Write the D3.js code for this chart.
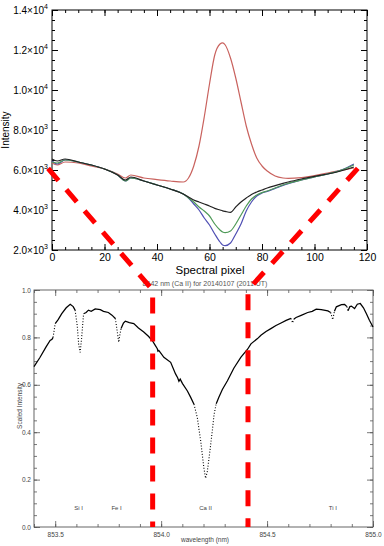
<!DOCTYPE html>
<html><head><meta charset="utf-8">
<script src="https://cdn.jsdelivr.net/npm/d3@7"></script>
<style>
body{margin:0;background:#fff}
svg{display:block}
text{font-family:"Liberation Sans",Arial,Helvetica,sans-serif}
</style>
</head><body>
<svg id="c" width="384" height="546"></svg>
<script>
// ---------- top chart data ----------
const pixels   = [0,2,5,10,15,20,25,28,30,35,40,45,50,52,54,56,58,60,62,64,65,66,68,70,72,74,76,78,80,82,85,88,90,95,100,105,110,115];
const blackVals= [6550,6450,6550,6400,6250,6050,5750,5500,5650,5450,5250,5050,4800,4650,4500,4400,4300,4200,4080,4000,3960,3930,3880,4150,4400,4600,4780,4900,5000,5100,5220,5330,5400,5550,5680,5800,5950,6150];
const greenVals= [6400,6350,6500,6400,6250,6050,5750,5450,5600,5450,5250,5050,4800,4600,4400,4150,3950,3700,3300,3000,2900,2870,2950,3300,3750,4200,4550,4750,4870,4950,5100,5250,5330,5500,5650,5800,5980,6250];
const blueVals = [6450,6300,6500,6400,6250,6050,5750,5450,5600,5450,5250,5050,4800,4600,4300,4000,3600,3250,2800,2400,2250,2220,2350,2800,3300,3950,4400,4700,4850,4930,5080,5230,5320,5500,5650,5800,5980,6300];
const redVals  = [6350,6250,6400,6350,6200,6050,5800,5600,5750,5600,5520,5450,5400,5600,6200,7200,8650,10300,11750,12300,12360,12250,11600,10600,9400,8200,7300,6600,6200,5950,5700,5600,5580,5620,5720,5850,5980,6100];
const topXTicks = [0,20,40,60,80,100,120];
const topYTicks = [2000,4000,6000,8000,10000,12000,14000];
const topYMant  = ["2.0","4.0","6.0","8.0","1.0","1.2","1.4"];
const topYExp   = ["3","3","3","3","4","4","4"];

// ---------- bottom chart data ----------
const specWave = [853.400,853.428,853.457,853.476,853.485,853.490,853.500,853.514,853.531,853.552,853.571,853.585,853.594,853.604,853.611,853.618,853.625,853.634,853.646,853.657,853.670,853.689,853.713,853.728,853.751,853.768,853.784,853.792,853.800,853.805,853.811,853.822,853.831,853.850,853.871,853.893,853.918,853.940,853.958,853.973,853.982,853.985,853.989,854.013,854.045,854.068,854.078,854.084,854.090,854.101,854.124,854.139,854.155,854.171,854.179,854.187,854.195,854.202,854.210,854.218,854.226,854.234,854.242,854.250,854.260,854.272,854.289,854.313,854.343,854.376,854.408,854.424,854.455,854.471,854.495,854.518,854.542,854.566,854.590,854.613,854.621,854.627,854.637,854.661,854.692,854.713,854.732,854.756,854.787,854.800,854.810,854.818,854.827,854.851,854.866,854.877,854.882,854.891,854.898,854.913,854.926,854.940,854.955,854.969,854.983,855.000];
const specInt  = [0.677,0.715,0.760,0.787,0.792,0.800,0.858,0.875,0.900,0.925,0.940,0.930,0.915,0.850,0.770,0.737,0.800,0.900,0.905,0.915,0.910,0.920,0.917,0.910,0.905,0.894,0.880,0.830,0.780,0.810,0.838,0.860,0.868,0.862,0.858,0.840,0.823,0.805,0.787,0.765,0.752,0.742,0.745,0.716,0.695,0.646,0.630,0.615,0.624,0.605,0.574,0.548,0.518,0.461,0.410,0.362,0.300,0.248,0.206,0.234,0.290,0.348,0.410,0.475,0.520,0.546,0.580,0.617,0.670,0.716,0.750,0.773,0.795,0.809,0.825,0.837,0.850,0.861,0.872,0.880,0.861,0.878,0.884,0.893,0.905,0.910,0.919,0.917,0.912,0.905,0.875,0.910,0.929,0.938,0.939,0.930,0.912,0.930,0.932,0.922,0.940,0.943,0.925,0.900,0.872,0.844];
const lineNames = ["Si I","Fe I","Ca II","Ti I"];
const lineWaves = [853.61,853.79,854.21,854.81];
const botXTicks = [853.5,854.0,854.5,855.0];
const botYTicks = [0,0.2,0.4,0.6,0.8,1.0];
const botTitle = "8542 nm (Ca II) for 20140107 (2011 UT)";

// ---------- zoom connector ----------
const zoomPixels = [-1.5,116.5];
const zoomWaves  = [853.96,854.41];
const zoomLevel  = 6080;

const svg = d3.select("#c");

// ================= TOP CHART =================
const tx = d3.scaleLinear().domain([0,120]).range([52,367]);
const ty = d3.scaleLinear().domain([2000,14000]).range([250,10]);
const topG = svg.append("g");

function minorVals(scale, step){
  const [a,b]=scale.domain(); const out=[];
  const n=Math.round((b-a)/step);
  for(let k=0;k<=n;k++) out.push(+(a+k*step).toFixed(6));
  return out;
}

topG.append("rect").attr("x",52).attr("y",10).attr("width",315).attr("height",240)
  .attr("fill","none").attr("stroke","#000").attr("stroke-width",1);

function axisSet(g, gen, major, minors, majLen, minLen, fmt){
  g.append("g").call(gen.tickValues(minors).tickSize(-minLen).tickFormat(""))
   .call(s=>s.select(".domain").remove());
  const m = g.append("g").call(gen.tickValues(major).tickSize(-majLen).tickFormat(fmt||""))
   .call(s=>s.select(".domain").remove());
  return m;
}
// bottom x axis
const txb = topG.append("g").attr("transform","translate(0,250)");
axisSet(txb, d3.axisBottom(tx), topXTicks, minorVals(tx,5), 6, 3, d=>d3.format("d")(d))
  .selectAll("text").attr("font-size",10.5).attr("fill","#000").attr("dy","0.9em").attr("y",2);
const txt = topG.append("g").attr("transform","translate(0,10)");
axisSet(txt, d3.axisTop(tx), topXTicks, minorVals(tx,5), 6, 3);
// y axes
const tyl = topG.append("g").attr("transform","translate(52,0)");
axisSet(tyl, d3.axisLeft(ty), topYTicks, minorVals(ty,500), 6, 3);
const tyr = topG.append("g").attr("transform","translate(367,0)");
axisSet(tyr, d3.axisRight(ty), topYTicks, minorVals(ty,500), 6, 3);
topG.selectAll(".tick line").attr("stroke","#000");

// y tick labels with superscripts
topYTicks.forEach((v,i)=>{
  const t = topG.append("text").attr("x",48).attr("y",ty(v)+3.5)
    .attr("text-anchor","end").attr("font-size",10).attr("fill","#000");
  t.append("tspan").text(topYMant[i]+"\u00d710");
  t.append("tspan").attr("dy",-4.5).attr("font-size",7).text(topYExp[i]);
});

topG.append("text").attr("x",210).attr("y",274).attr("text-anchor","middle")
  .attr("font-size",11.5).attr("fill","#000").text("Spectral pixel");
topG.append("text").attr("transform","translate(9,130) rotate(-90)")
  .attr("text-anchor","middle").attr("font-size",10).attr("fill","#000").text("Intensity");

const tline = d3.line().x((d,i)=>tx(pixels[i])).y(d=>ty(d)).curve(d3.curveMonotoneX);
const series = [
  {v:redVals,   c:"#c9625e"},
  {v:blueVals,  c:"#4f4fb3"},
  {v:greenVals, c:"#4f9a58"},
  {v:blackVals, c:"#222222"}
];
series.forEach(s=>{
  topG.append("path").attr("d",tline(s.v)).attr("fill","none")
    .attr("stroke",s.c).attr("stroke-width",1.2);
});

// ================= BOTTOM CHART =================
const bx = d3.scaleLinear().domain([853.4,855.0]).range([34,373]);
const by = d3.scaleLinear().domain([0,1]).range([527,290]);
const bot = svg.append("g");
const gcol = "#555";

bot.append("rect").attr("x",34).attr("y",290).attr("width",339).attr("height",237)
  .attr("fill","none").attr("stroke",gcol).attr("stroke-width",0.9);

const bxb = bot.append("g").attr("transform","translate(0,527)");
axisSet(bxb, d3.axisBottom(bx), botXTicks, minorVals(bx,0.1), 6, 3, d3.format(".1f"))
  .selectAll("text").attr("font-size",6.5).attr("fill","#444").attr("y",4).attr("dy","0.9em");
const bxt = bot.append("g").attr("transform","translate(0,290)");
axisSet(bxt, d3.axisTop(bx), botXTicks, minorVals(bx,0.1), 6, 3);
const byl = bot.append("g").attr("transform","translate(34,0)");
axisSet(byl, d3.axisLeft(by), botYTicks, minorVals(by,0.05), 6, 3, d3.format(".1f"))
  .selectAll("text").attr("font-size",6.5).attr("fill","#444").attr("x",-3);
const byr = bot.append("g").attr("transform","translate(373,0)");
axisSet(byr, d3.axisRight(by), botYTicks, minorVals(by,0.05), 6, 3);
bot.selectAll(".tick line").attr("stroke",gcol).attr("stroke-width",0.8);

bot.append("text").attr("x",205).attr("y",286).attr("text-anchor","middle")
  .attr("font-size",7).attr("fill","#555").text(botTitle);
bot.append("text").attr("x",205).attr("y",542).attr("text-anchor","middle")
  .attr("font-size",6.5).attr("fill","#444").text("wavelength (nm)");
bot.append("text").attr("transform","translate(22,406) rotate(-90)")
  .attr("text-anchor","middle").attr("font-size",6.5).attr("fill","#444").text("Scaled Intensity");

lineNames.forEach((n,i)=>{
  bot.append("text").attr("x",bx(lineWaves[i])).attr("y",by(0.07))
    .attr("text-anchor","middle").attr("font-size",6).attr("fill","#444").text(n);
});

// spectrum: solid where gentle, dotted where steep
const pts = specWave.map((w,i)=>[bx(w), by(specInt[i])]);
let groups=[]; let cur=null;
for(let i=0;i<pts.length-1;i++){
  const dx=pts[i+1][0]-pts[i][0], dy=pts[i+1][1]-pts[i][1];
  const steep = Math.abs(dy) > 2.6*Math.abs(dx) && Math.abs(dy)>4;
  if(!cur || cur.steep!==steep){ cur={steep, p:[pts[i]]}; groups.push(cur); }
  cur.p.push(pts[i+1]);
}
const bl = d3.line();
groups.forEach(g=>{
  bot.append("path").attr("d",bl(g.p)).attr("fill","none")
    .attr("stroke","#000").attr("stroke-width", g.steep?1.1:1.25)
    .attr("stroke-dasharray", g.steep?"1,1.8":null);
});

// ================= RED CONNECTORS =================
zoomPixels.forEach((p,i)=>{
  const path = d3.path();
  path.moveTo(tx(p), ty(zoomLevel));
  path.lineTo(bx(zoomWaves[i]), by(1));
  path.lineTo(bx(zoomWaves[i]), by(0));
  svg.append("path").attr("d",path.toString()).attr("fill","none")
    .attr("stroke","#ff0000").attr("stroke-width",5)
    .attr("stroke-dasharray","16,12");
});
</script>
</body></html>
